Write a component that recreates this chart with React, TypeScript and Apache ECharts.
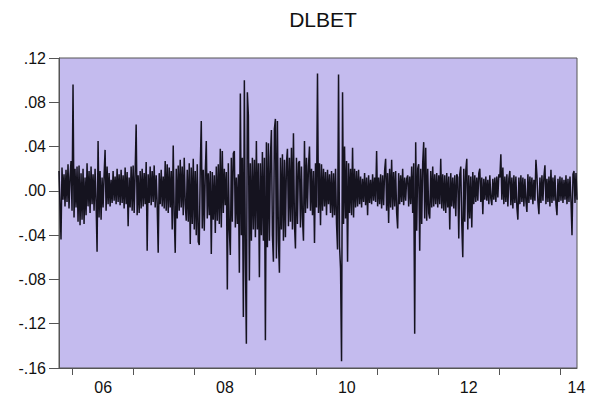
import React, { useEffect, useRef } from "react";
import * as echarts from "echarts";

// Daily log returns (DLBET), approx. Oct 2005 – Apr 2014, one value per ~4 trading days
const dlbet: number[] = [
  .018,-.012,-.044,.021,-.008,.015,-.014,.019,-.01,.024,-.016,.012,.027,-.018,.096,-.024,.02,-.015,.022,-.028,
  .023,-.031,.016,-.026,.02,-.03,.012,-.022,.025,-.014,.018,-.02,.022,-.012,.015,-.018,.02,-.01,-.055,.045,
  -.024,.018,-.026,.012,-.015,.014,.037,-.018,.022,-.012,.016,-.014,.01,-.011,.018,-.009,.013,-.012,.02,-.01,
  .015,-.013,.019,-.011,.014,-.016,.021,-.012,.017,-.032,.012,-.015,.022,-.018,.023,-.02,.016,.06,-.022,.014,
  -.02,.018,-.016,.02,-.014,.016,-.012,.026,-.054,.015,-.011,.022,-.013,.018,-.01,.023,-.015,.014,-.012,-.056,
  .016,-.012,.019,-.014,.013,-.016,.027,-.018,.024,-.02,.021,-.015,.018,-.035,.041,-.022,-.056,.02,-.025,.023,
  -.018,.028,-.015,.022,-.022,.03,-.012,-.027,.019,-.028,.025,-.048,.021,-.03,.029,-.035,.018,-.04,.024,-.046,
  -.049,.021,.063,-.034,.019,-.036,.017,.045,-.025,.016,-.022,.018,-.057,.017,-.026,.014,-.038,.022,-.027,.024,
  -.03,.038,-.033,.036,-.02,.02,-.013,.017,-.089,.025,-.035,-.058,.03,-.028,.034,.036,-.033,.012,-.03,.015,
  -.074,.088,-.04,.03,-.114,.1,-.06,-.138,.089,.068,-.081,.025,-.045,.03,-.035,.028,-.042,.045,-.035,.025,
  -.078,.025,-.04,.035,-.045,.03,-.135,.044,-.051,.043,-.045,.03,.055,-.04,-.064,.056,.065,-.061,.063,-.045,
  -.074,.03,-.035,.033,-.045,.028,-.042,.025,.038,-.032,.03,-.028,.039,-.035,.052,-.03,-.052,.03,-.03,.025,
  .027,-.033,.022,-.025,-.045,.045,-.02,.03,-.016,.022,.04,-.018,.02,-.022,.018,-.047,.025,-.015,.106,-.02,
  .025,-.031,.024,-.018,.02,-.014,.017,-.022,.019,-.012,.015,-.02,.018,-.024,.016,-.022,.02,-.03,-.053,.105,
  -.05,-.07,-.154,.089,-.03,.04,-.025,.027,-.064,.025,-.02,.02,-.022,.039,-.024,.02,-.015,.018,-.014,.019,
  -.012,.013,-.015,.011,-.01,.016,-.013,.012,-.022,.014,-.011,.01,-.012,.015,-.009,.012,-.01,.036,-.014,.012,
  -.012,.015,-.016,.014,-.013,.018,.029,-.018,.016,-.029,.02,-.015,.028,-.017,.017,-.014,.018,-.02,-.034,.016,
  -.012,.014,-.01,.02,-.013,.012,-.009,.011,.014,-.014,.013,-.012,.022,-.02,.025,-.129,.044,-.036,.02,.024,
  -.054,.02,-.03,.025,.044,-.025,.039,-.027,.02,-.02,-.025,.018,-.015,.022,-.014,.015,-.012,.016,-.015,.014,
  -.012,.029,-.016,.015,-.018,.014,-.02,.016,-.015,.013,-.035,.016,-.014,.012,-.016,.014,-.023,.015,.012,-.043,
  .015,.022,-.03,-.06,.02,-.028,.018,.029,-.035,.014,-.025,.013,-.033,.017,-.012,.014,-.01,.012,-.009,.016,
  .02,-.01,.012,-.021,.011,-.008,.013,-.009,.01,-.012,.014,-.007,-.013,.011,-.008,.012,-.01,.013,-.006,.015,
  .012,.033,-.008,.021,-.012,.013,-.01,.015,-.014,.011,.018,-.013,.012,-.016,.014,-.011,.013,-.015,-.026,.012,
  -.012,.014,-.01,.012,-.014,.011,-.009,-.019,.015,-.011,.013,-.008,.012,-.012,.01,-.009,.028,.014,-.01,-.021,
  .012,-.011,.014,-.009,.013,.023,-.012,.011,-.01,.013,-.014,.019,-.011,.012,-.009,.014,-.012,-.022,.011,-.01,
  .013,-.009,.012,-.011,.01,-.008,.014,-.012,.011,-.01,.013,-.009,-.04,.015,.018,-.011,.016,-.008,
];

// Sample span in fractional years
const sampleStart = 2005.775;
const sampleEnd = 2014.279;

// Year boundaries (ticks) and year labels
const yearTicks = [2006, 2007, 2008, 2009, 2010, 2011, 2012, 2013, 2014];
const yearLabels = [2006.5, 2008.5, 2010.5, 2012.5, 2014.27];

const yMin = -0.16;
const yMax = 0.12;
const yStep = 0.04;

const FONT = "'Liberation Sans', Arial, Helvetica, sans-serif";

export default function App() {
  const ref = useRef<HTMLDivElement>(null);

  useEffect(() => {
    if (!ref.current) return;
    const chart = echarts.init(ref.current, undefined, { renderer: "svg" });
    const n = dlbet.length;
    const data = dlbet.map((v, i) => [
      sampleStart + (i * (sampleEnd - sampleStart)) / (n - 1),
      v,
    ]);
    chart.setOption({
      animation: false,
      backgroundColor: "#ffffff",
      title: {
        text: "DLBET",
        left: 318,
        top: 4,
        textAlign: "center",
        textStyle: {
          fontFamily: FONT,
          fontSize: 21,
          fontWeight: "normal",
          color: "#111111",
        },
      },
      grid: {
        left: 59,
        right: 16,
        top: 58,
        bottom: 35,
        show: true,
        backgroundColor: "#c4bbee",
        borderColor: "#555555",
        borderWidth: 1,
      },
      xAxis: {
        type: "value",
        min: sampleStart,
        max: sampleEnd,
        axisLine: { show: true, onZero: false, lineStyle: { color: "#555555", width: 1 } },
        splitLine: { show: false },
        axisTick: {
          show: true,
          customValues: yearTicks,
          length: 7,
          lineStyle: { color: "#555555", width: 1 },
        },
        axisLabel: {
          customValues: yearLabels,
          margin: 11,
          fontFamily: FONT,
          fontSize: 16,
          color: "#111111",
          formatter: (v: number) =>
            String(Math.floor(v + 1e-6) % 100).padStart(2, "0"),
        },
      },
      yAxis: {
        type: "value",
        min: yMin,
        max: yMax,
        interval: yStep,
        axisLine: { show: true, onZero: false, lineStyle: { color: "#555555", width: 1 } },
        splitLine: { show: false },
        axisTick: {
          show: true,
          length: 10,
          lineStyle: { color: "#555555", width: 1 },
        },
        axisLabel: {
          margin: 13,
          fontFamily: FONT,
          fontSize: 16,
          color: "#111111",
          formatter: (v: number) => {
            const s = (Math.round(v * 100) / 100).toFixed(2);
            return s.replace("0.", ".");
          },
        },
      },
      series: [
        {
          type: "line",
          data,
          showSymbol: false,
          symbol: "none",
          clip: true,
          lineStyle: { color: "#15131f", width: 1.5 },
          emphasis: { disabled: true },
        },
      ],
    });
    return () => chart.dispose();
  }, []);

  return (
    <div
      ref={ref}
      style={{ position: "absolute", left: 0, top: 0, width: 593, height: 403 }}
    />
  );
}
